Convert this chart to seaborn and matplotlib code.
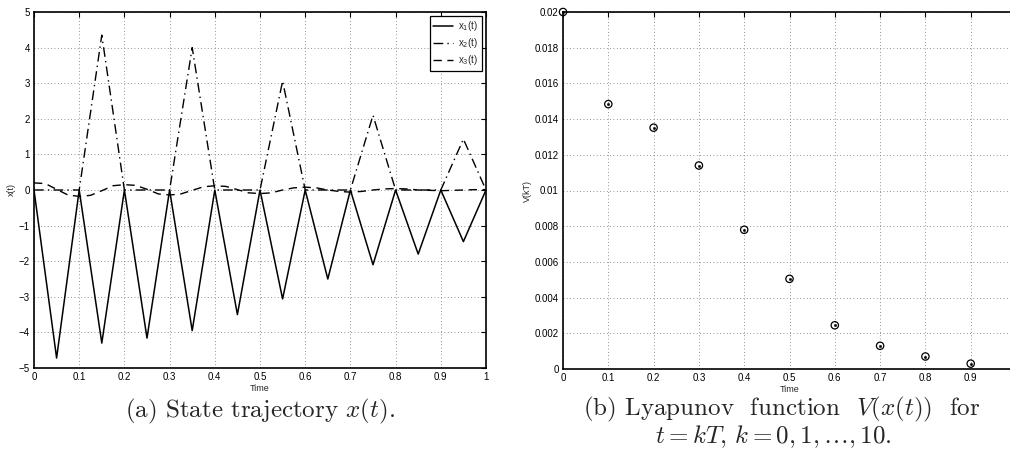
import numpy as np
import pandas as pd
import matplotlib
matplotlib.use("Agg")
import matplotlib.pyplot as plt
from matplotlib.ticker import FuncFormatter
import seaborn as sns

# ---------------- data ----------------
t_x1 = [0.0, 0.05, 0.1, 0.15, 0.2, 0.25, 0.3, 0.35, 0.4, 0.45, 0.5,
        0.55, 0.6, 0.65, 0.7, 0.75, 0.8, 0.85, 0.9, 0.95, 1.0]
x1 = [0, -4.72, 0, -4.3, 0, -4.16, 0, -3.95, 0, -3.5, 0,
      -3.06, 0, -2.5, 0, -2.1, 0, -1.8, 0, -1.45, 0]

t_x2 = [0.0, 0.1, 0.15, 0.2, 0.3, 0.35, 0.4, 0.5, 0.55, 0.6,
        0.7, 0.75, 0.8, 0.9, 0.95, 1.0]
x2 = [0, 0, 4.35, 0, 0, 4.0, 0, 0, 3.06, 0, 0, 2.1, 0, 0, 1.43, 0]

t_x3 = [0.0, 0.025, 0.05, 0.075, 0.1, 0.125, 0.15, 0.175, 0.2, 0.225,
        0.25, 0.275, 0.3, 0.325, 0.35, 0.375, 0.4, 0.425, 0.45, 0.475,
        0.5, 0.525, 0.55, 0.575, 0.6, 0.625, 0.65, 0.675, 0.7, 0.725,
        0.75, 0.775, 0.8, 0.825, 0.85, 0.875, 0.9, 0.925, 0.95, 0.975, 1.0]
x3 = [0.20, 0.18, 0.02, -0.14, -0.18, -0.15, -0.02, 0.12, 0.15, 0.13,
      0.02, -0.11, -0.14, -0.11, -0.01, 0.09, 0.12, 0.10, 0.01, -0.08,
      -0.10, -0.08, 0.0, 0.06, 0.08, 0.06, 0.0, -0.04, -0.06, -0.04,
      0.0, 0.03, 0.04, 0.03, 0.0, -0.01, -0.02, -0.01, 0.0, 0.01, 0.01]

kT = [0.0, 0.1, 0.2, 0.3, 0.4, 0.5, 0.6, 0.7, 0.8, 0.9]
V = [0.0200, 0.01484, 0.01352, 0.0114, 0.0078, 0.00505, 0.00245, 0.0013, 0.0007, 0.0003]

left_xticks = [0, 0.1, 0.2, 0.3, 0.4, 0.5, 0.6, 0.7, 0.8, 0.9, 1]
left_yticks = [-5, -4, -3, -2, -1, 0, 1, 2, 3, 4, 5]
right_xticks = [0, 0.1, 0.2, 0.3, 0.4, 0.5, 0.6, 0.7, 0.8, 0.9]
right_yticks = [0, 0.002, 0.004, 0.006, 0.008, 0.01, 0.012, 0.014, 0.016, 0.018, 0.02]

legend_labels = ["x$_1$(t)", "x$_2$(t)", "x$_3$(t)"]
caption_a = "(a) State trajectory $x(t)$."
caption_b1 = "(b) Lyapunov  function  $V(x(t))$  for"
caption_b2 = "$t = kT,\\, k = 0, 1, \\ldots, 10.$"

# ---------------- style ----------------
sns.set_theme(style="white")
plt.rcParams["font.family"] = ["Liberation Sans", "DejaVu Sans"]
plt.rcParams["mathtext.fontset"] = "dejavusans"
plt.rcParams["xtick.direction"] = "in"
plt.rcParams["ytick.direction"] = "in"
plt.rcParams["xtick.top"] = True
plt.rcParams["ytick.right"] = True
plt.rcParams["xtick.major.size"] = 3.5
plt.rcParams["ytick.major.size"] = 3.5
plt.rcParams["xtick.major.width"] = 0.8
plt.rcParams["ytick.major.width"] = 0.8
plt.rcParams["xtick.major.pad"] = 3
plt.rcParams["ytick.major.pad"] = 3
plt.rcParams["xtick.color"] = "black"
plt.rcParams["ytick.color"] = "black"
plt.rcParams["axes.edgecolor"] = "black"
plt.rcParams["axes.linewidth"] = 1.2

W, H = 1010, 453
fig = plt.figure(figsize=(W / 100, H / 100), dpi=100)

def px_axes(x0, y0, x1_, y1_):
    return fig.add_axes([x0 / W, 1 - y1_ / H, (x1_ - x0) / W, (y1_ - y0) / H])

ax1 = px_axes(34, 12, 486, 368)
ax2 = px_axes(563, 12, 1016, 369)

def fmt(v, pos):
    s = f"{v:g}"
    return s.replace("-", "\u2212")

tick_fs = 7
grid_kw = dict(color="#707070", linestyle=(0, (1, 3)), linewidth=0.6)

# ---- left panel ----
sns.lineplot(x=t_x1, y=x1, ax=ax1, color="black", linewidth=1.1,
             estimator=None, sort=False, label=legend_labels[0])
sns.lineplot(x=t_x2, y=x2, ax=ax1, color="black", linewidth=1.0,
             linestyle=(0, (7, 3, 1, 3)), estimator=None, sort=False,
             label=legend_labels[1])
sns.lineplot(x=t_x3, y=x3, ax=ax1, color="black", linewidth=1.0,
             linestyle=(0, (6, 4)), estimator=None, sort=False,
             label=legend_labels[2])
ax1.set_xlim(0, 1)
ax1.set_ylim(-5, 5)
ax1.set_xticks(left_xticks)
ax1.set_yticks(left_yticks)
ax1.xaxis.set_major_formatter(FuncFormatter(fmt))
ax1.yaxis.set_major_formatter(FuncFormatter(fmt))
ax1.grid(True, **grid_kw)
ax1.tick_params(labelsize=tick_fs)
ax1.set_xlabel("Time", fontsize=6.5, labelpad=1)
ax1.set_ylabel("x(t)", fontsize=6.5, labelpad=2)
leg = ax1.legend(loc="upper right", fontsize=7, frameon=True, fancybox=False,
                 edgecolor="black", framealpha=1, borderaxespad=0.4,
                 handlelength=2.0, labelspacing=0.3, borderpad=0.35,
                 handletextpad=0.6)
leg.get_frame().set_linewidth(0.9)

# ---- right panel ----
sns.scatterplot(x=kT, y=V, ax=ax2, marker="o", s=28, facecolor="none",
                edgecolor="black", linewidth=0.9, clip_on=False, zorder=5)
sns.scatterplot(x=kT, y=V, ax=ax2, marker="o", s=3, color="black",
                edgecolor="black", linewidth=0.3, clip_on=False, zorder=6)
ax2.set_xlim(0, 1.0)
ax2.set_ylim(0, 0.02)
ax2.set_xticks(right_xticks)
ax2.set_yticks(right_yticks)
ax2.xaxis.set_major_formatter(FuncFormatter(fmt))
ax2.yaxis.set_major_formatter(FuncFormatter(fmt))
ax2.grid(True, **grid_kw)
ax2.tick_params(labelsize=tick_fs)
ax2.set_xlabel("Time", fontsize=6.5, labelpad=1)
ax2.set_ylabel("V(kT)", fontsize=6.5, labelpad=2)
for a in (ax1, ax2):
    for sp in a.spines.values():
        sp.set_visible(True)
        sp.set_color("black")

# ---- captions ----
cap_fs = 18
fig.text(260 / W, 1 - 411 / H, caption_a, ha="center", va="center",
         fontsize=cap_fs, family="cmr10", math_fontfamily="cm")
fig.text(782 / W, 1 - 409 / H, caption_b1, ha="center", va="center",
         fontsize=cap_fs, family="cmr10", math_fontfamily="cm")
fig.text(773 / W, 1 - 437 / H, caption_b2, ha="center", va="center",
         fontsize=cap_fs, family="cmr10", math_fontfamily="cm")

fig.savefig("out.png", dpi=100)
